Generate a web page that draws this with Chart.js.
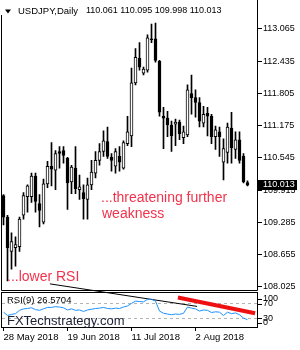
<!DOCTYPE html>
<html>
<head>
<meta charset="utf-8">
<script src="https://cdn.jsdelivr.net/npm/chart.js@4.4.1/dist/chart.umd.min.js"></script>
<style>
  html, body { margin: 0; padding: 0; background: #fff; }
  #wrap { width: 300px; height: 350px; position: relative; }
</style>
</head>
<body>
<div id="wrap"><canvas id="fx"></canvas></div>
<script>
// USDJPY daily, 28 May - 21 Aug 2018
const dates = [
  '28 May 2018','29 May 2018','30 May 2018','31 May 2018','1 Jun 2018',
  '4 Jun 2018','5 Jun 2018','6 Jun 2018','7 Jun 2018','8 Jun 2018',
  '11 Jun 2018','12 Jun 2018','13 Jun 2018','14 Jun 2018','15 Jun 2018',
  '18 Jun 2018','19 Jun 2018','20 Jun 2018','21 Jun 2018','22 Jun 2018',
  '25 Jun 2018','26 Jun 2018','27 Jun 2018','28 Jun 2018','29 Jun 2018',
  '2 Jul 2018','3 Jul 2018','4 Jul 2018','5 Jul 2018','6 Jul 2018',
  '9 Jul 2018','10 Jul 2018','11 Jul 2018','12 Jul 2018','13 Jul 2018',
  '16 Jul 2018','17 Jul 2018','18 Jul 2018','19 Jul 2018','20 Jul 2018',
  '23 Jul 2018','24 Jul 2018','25 Jul 2018','26 Jul 2018','27 Jul 2018',
  '30 Jul 2018','31 Jul 2018','1 Aug 2018','2 Aug 2018','3 Aug 2018',
  '6 Aug 2018','7 Aug 2018','8 Aug 2018','9 Aug 2018','10 Aug 2018',
  '13 Aug 2018','14 Aug 2018','15 Aug 2018','16 Aug 2018','17 Aug 2018',
  '20 Aug 2018','21 Aug 2018'
];

const opens = [
  109.808,109.387,108.718,108.793,108.812, 109.425,109.789,109.789,110.191,109.655,
  109.291,110.038,110.383,110.307,110.670, 110.690,110.536,110.077,110.345,109.923,
  109.866,109.732,110.019,110.249,110.498, 110.670,110.862,110.555,110.383,110.575,
  110.345,110.824,110.977,112.011,112.490, 112.203,112.260,112.873,112.873,112.433,
  111.360,111.322,111.188,111.207,111.245, 110.939,110.996,111.801,111.724,111.628,
  111.226,111.418,111.360,110.958,111.054, 110.460,110.651,111.130,110.709,110.900,
  110.575,110.061
];
const highs = [
  109.827,109.425,109.080,109.004,109.387, 109.866,110.019,110.249,110.249,109.827,
  110.134,110.479,110.843,110.690,110.766, 110.766,110.555,110.402,110.766,110.211,
  110.019,110.153,110.498,110.670,110.824, 111.073,111.150,110.632,110.728,110.766,
  110.881,111.360,112.299,112.682,112.797, 112.318,112.950,113.161,113.180,112.452,
  111.532,111.456,111.264,111.303,111.283, 111.169,111.973,112.165,111.877,111.724,
  111.552,111.532,111.398,111.169,111.150, 110.919,111.226,111.437,111.054,111.054,
  110.632,110.095
];
const lows = [
  109.234,108.142,108.372,108.429,108.718, 109.348,109.483,109.674,109.483,109.195,
  109.253,109.962,110.000,109.923,110.345, 110.441,109.540,109.847,109.847,109.732,
  109.348,109.348,109.923,110.153,110.402, 110.575,110.536,110.287,110.249,110.287,
  110.326,110.785,110.766,111.973,112.260, 112.165,112.222,112.797,112.414,111.360,
  110.728,110.958,110.670,110.785,110.900, 110.824,110.958,111.398,111.341,111.150,
  111.150,110.977,110.824,110.709,110.575, 110.115,110.441,110.441,110.536,110.441,
  110.057,109.998
];
const closes = [
  109.387,108.793,108.908,108.850,109.348, 109.808,110.000,110.191,109.693,109.521,
  110.038,110.383,110.326,110.632,110.632, 110.594,110.057,110.364,109.942,109.981,
  109.751,110.019,110.268,110.498,110.670, 110.881,110.575,110.498,110.670,110.460,
  110.843,111.054,112.011,112.509,112.318, 112.280,112.893,112.854,112.452,111.437,
  111.322,111.188,110.977,111.245,111.015, 111.054,111.877,111.724,111.628,111.264,
  111.398,111.360,110.958,111.092,110.958, 110.728,111.150,110.747,110.900,110.498,
  110.077,110.013
];

// RSI(9)
const rsi = [
  47,38,41,43,52, 56,57,59,54,52,
  56,60,60,62,61, 59,53,56,52,53,
  49,53,55,57,58, 60,57,56,58,57,
  61,64,71,77,76, 75,82,82,77,50,
  44,42,40,42,41, 44,61,58,56,50,
  53,52,46,48,47, 38,47,43,45,40,
  31,26.5704
];

// drawn trend lines, in (bar index, RSI value)
const trendBlack = [{x: 11.6, y: 124}, {x: 48.4, y: 62.7}];
const trendRed = [{x: 43.6, y: 86.7}, {x: 62.9, y: 44}];

const xTickIdx = [0, 16, 32, 48];
const priceTicks = [108.025, 108.655, 109.285, 109.915, 110.545, 111.175, 111.805, 112.435, 113.065];
const rsiLevels = [30, 70];
const rsiLabels = [100, 70, 30, 0];

const FONT = '"Liberation Sans", Arial, sans-serif';

const overlay = {
  id: 'overlay',
  afterDraw(chart) {
    const { ctx, chartArea: a, scales } = chart;
    const y = scales.y, r = scales.rsi;
    const rTop = Math.round(r.getPixelForValue(100));
    const rBot = Math.round(a.bottom);
    ctx.save();

    // panel frames
    ctx.strokeStyle = '#000';
    ctx.lineWidth = 1;
    ctx.beginPath();
    ctx.moveTo(1.5, 15); ctx.lineTo(1.5, rTop - 2.5);
    ctx.lineTo(a.right - 0.5, rTop - 2.5); ctx.lineTo(a.right - 0.5, 0);
    ctx.stroke();
    ctx.strokeRect(1.5, rTop - 0.5, a.right - 2, rBot - rTop + 1);

    // title
    ctx.fillStyle = '#000';
    ctx.beginPath();
    ctx.moveTo(5, 9.5); ctx.lineTo(11, 9.5); ctx.lineTo(8, 13.5); ctx.closePath();
    ctx.fill();
    ctx.font = '9.5px ' + FONT;
    ctx.textBaseline = 'middle';
    ctx.textAlign = 'left';
    ctx.fillText('USDJPY,Daily', 18, 11);
    ctx.font = '9px ' + FONT;
    const last = closes.length - 1;
    ctx.fillText([opens[last], highs[last], lows[last], closes[last]].map(v => v.toFixed(3)).join(' '), 86, 11);

    // annotations
    ctx.fillStyle = '#f2324c';
    ctx.font = '14px ' + FONT;
    ctx.textBaseline = 'alphabetic';
    ctx.fillText('...threatening further', 101, 202);
    ctx.fillText('weakness', 102, 218);
    ctx.fillText('...lower RSI', 7, 281);

    // RSI panel texts
    ctx.fillStyle = '#000';
    ctx.font = '9.5px ' + FONT;
    ctx.textBaseline = 'middle';
    ctx.fillText('RSI(9) ' + rsi[last].toFixed(4), 7, 300.5);
    ctx.fillStyle = '#1c2033';
    ctx.font = '13px ' + FONT;
    ctx.textBaseline = 'alphabetic';
    ctx.fillText('FXTechstrategy.com', 7, 325);

    ctx.fillStyle = '#000';
    ctx.font = '9px ' + FONT;
    ctx.textBaseline = 'middle';
    rsiLabels.forEach(v => {
      const py = Math.min(Math.max(r.getPixelForValue(v), rTop + 6), rBot - 4.5);
      ctx.beginPath();
      ctx.moveTo(a.right, Math.round(py) + 0.5); ctx.lineTo(a.right + 4, Math.round(py) + 0.5);
      ctx.stroke();
      ctx.fillText(String(v), a.right + 5, py);
    });

    // current price box
    const py = y.getPixelForValue(closes[last]);
    ctx.fillStyle = '#000';
    ctx.fillRect(a.right, Math.round(py) - 5, 39, 10);
    ctx.fillStyle = '#fff';
    ctx.fillText(closes[last].toFixed(3), a.right + 5, Math.round(py));
    ctx.restore();
  }
};

new Chart(document.getElementById('fx'), {
  type: 'bar',
  data: {
    datasets: [
      {
        label: 'body',
        data: opens.map((o, i) => ({ x: i, y: [o, closes[i]] })),
        backgroundColor: opens.map((o, i) => closes[i] >= o ? '#fff' : '#000'),
        borderColor: '#000',
        borderWidth: 1,
        borderSkipped: false,
        barThickness: 3,
        minBarLength: 1,
        grouped: false,
        yAxisID: 'y'
      },
      {
        label: 'wick',
        data: lows.map((l, i) => ({ x: i, y: [l, highs[i]] })),
        backgroundColor: '#000',
        borderWidth: 0,
        barThickness: 1,
        grouped: false,
        yAxisID: 'y'
      },
      {
        type: 'line',
        label: 'RSI(9)',
        data: rsi.map((v, i) => ({ x: i, y: v })),
        borderColor: '#1e90ff',
        borderWidth: 1,
        pointRadius: 0,
        yAxisID: 'rsi'
      },
      {
        type: 'line',
        data: trendBlack,
        borderColor: '#000',
        borderWidth: 1,
        pointRadius: 0,
        yAxisID: 'rsi'
      },
      {
        type: 'line',
        data: trendRed,
        borderColor: '#ee1111',
        borderWidth: 4,
        pointRadius: 0,
        yAxisID: 'rsi'
      }
    ]
  },
  options: {
    responsive: true,
    maintainAspectRatio: false,
    animation: false,
    events: [],
    layout: { padding: { left: 2, top: 0, right: 0, bottom: 0 } },
    plugins: { legend: { display: false }, tooltip: { enabled: false } },
    scales: {
      x: {
        type: 'linear',
        min: -0.375,
        max: 63.625,
        offset: false,
        border: { display: false },
        grid: { drawOnChartArea: false, offset: false, tickLength: 4, color: '#000' },
        ticks: {
          autoSkip: false, align: 'start', maxRotation: 0, padding: 1,
          color: '#000', font: { family: FONT, size: 9.5 },
          callback: v => dates[v]
        },
        afterBuildTicks: s => { s.ticks = xTickIdx.map(v => ({ value: v })); },
        afterFit: s => { s.height = 23; }
      },
      y: {
        type: 'linear',
        position: 'right',
        min: 107.241,
        max: 113.506,
        border: { display: false },
        grid: { drawOnChartArea: false, tickLength: 4, color: '#000' },
        ticks: {
          padding: 1, color: '#000', font: { family: FONT, size: 9 },
          callback: v => v.toFixed(3)
        },
        afterBuildTicks: s => { s.ticks = priceTicks.map(v => ({ value: v })); },
        afterFit: s => { s.width = 42; }
      },
      rsi: {
        type: 'linear',
        position: 'left',
        min: 6.67,
        max: 878.67,
        border: { display: false, dash: [3, 3] },
        grid: { color: '#b4b4b4', drawTicks: false },
        ticks: { display: false },
        afterBuildTicks: s => { s.ticks = rsiLevels.map(v => ({ value: v })); },
        afterFit: s => { s.width = 0; }
      }
    }
  },
  plugins: [overlay]
});
</script>
</body>
</html>
